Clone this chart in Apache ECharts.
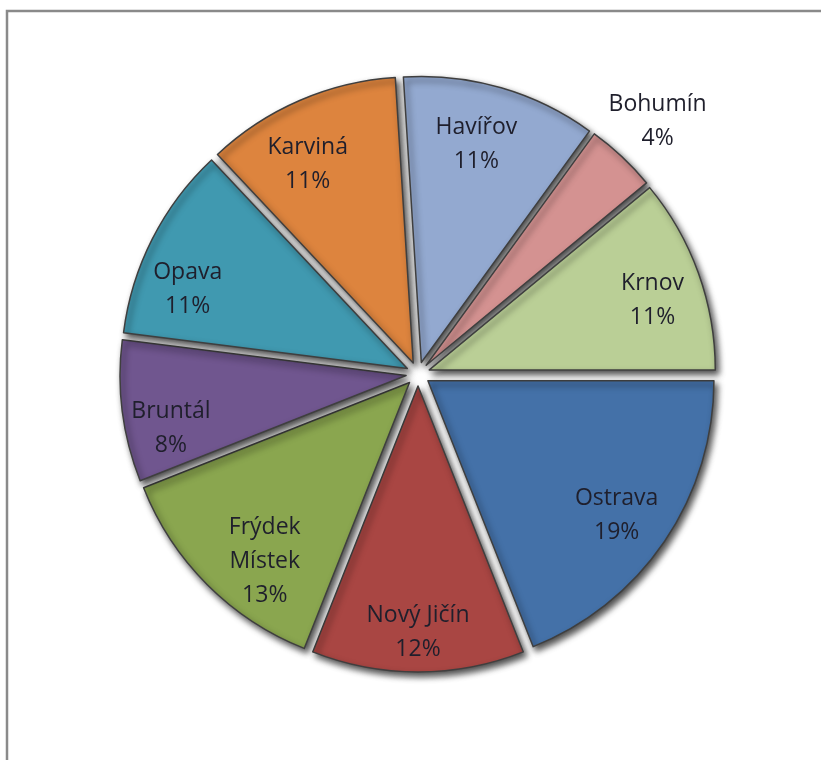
<!DOCTYPE html>
<html>
<head>
<meta charset="utf-8">
<script src="https://cdn.jsdelivr.net/npm/echarts@6/dist/echarts.min.js"></script>
<style>
  html, body { margin: 0; padding: 0; background: #ffffff; }
  #chart { width: 821px; height: 760px; }
</style>
</head>
<body>
<div id="chart"></div>
<script>
// Share of each district (percent), clockwise from 3 o'clock
const districts = ['Ostrava', 'Nový Jičín', 'Frýdek Místek', 'Bruntál', 'Opava', 'Karviná', 'Havířov', 'Bohumín', 'Krnov'];
const shares = [19, 12, 13, 8, 11, 11, 11, 4, 11];
const sliceColors = ['#4471A8', '#A94643', '#8AA64F', '#70568F', '#4099B0', '#DD843E', '#93A9D0', '#D49291', '#BACF96'];

// Names broken over two lines in the labels
const wrappedNames = { 'Frýdek Místek': 'Frýdek\nMístek' };

const CENTER = [418, 374];
const RADIUS = 286;
const EXPLODE = 12;

// Label placement: distance of the label centre from the pie centre
const labelRings = [
  { dist: 245, names: ['Ostrava', 'Nový Jičín', 'Frýdek Místek', 'Bruntál', 'Opava', 'Karviná', 'Havířov', 'Krnov'] },
  { dist: 350, names: ['Bohumín'] }
];
// Small per-label nudges (px) off the ring position
const labelNudge = {
  'Ostrava': [-4, 4],
  'Nový Jičín': [0, 13],
  'Frýdek Místek': [20, 14],
  'Bruntál': [-4, 24],
  'Opava': [-12, 27],
  'Karviná': [-13, 15],
  'Havířov': [-10, 6],
  'Krnov': [4, 9],
  'Bohumín': [0, 3]
};

const labelFont = {
  fontFamily: '"Open Sans", "Noto Sans", sans-serif',
  fontSize: 23,
  lineHeight: 34,
  color: '#1f1f2c'
};

const sliceStyle = {
  borderColor: '#3f3f3f',
  borderWidth: 1.5,
  shadowBlur: 6,
  shadowOffsetX: 3,
  shadowOffsetY: 4,
  shadowColor: 'rgba(0,0,0,0.7)'
};

const sliceData = districts.map((name, i) => ({
  name: name,
  value: shares[i],
  selected: true,
  itemStyle: { color: sliceColors[i] }
}));

const pieSeries = {
  type: 'pie',
  center: CENTER,
  radius: [0, RADIUS],
  startAngle: 0,
  clockwise: true,
  selectedMode: 'multiple',
  selectedOffset: EXPLODE,
  silent: true,
  label: { show: false },
  labelLine: { show: false },
  itemStyle: sliceStyle,
  select: { itemStyle: sliceStyle },
  emphasis: { disabled: true },
  data: sliceData,
  z: 2
};

// Transparent companion pies that only carry the labels; an inside pie label
// sits at half the radius (+3px), so the radius sets the label distance.
const labelSeries = labelRings.map(ring => ({
  type: 'pie',
  center: CENTER,
  radius: [0, 2 * (ring.dist - 3)],
  startAngle: 0,
  clockwise: true,
  silent: true,
  selectedMode: false,
  emphasis: { disabled: true },
  itemStyle: { color: 'rgba(0,0,0,0)', borderWidth: 0 },
  labelLine: { show: false },
  labelLayout: params => {
    const nudge = labelNudge[districts[params.dataIndex]] || [0, 0];
    return { dx: nudge[0], dy: nudge[1] };
  },
  z: 3,
  data: districts.map((name, i) => ({
    name: name,
    value: shares[i],
    label: {
      show: ring.names.indexOf(name) !== -1,
      position: 'inside',
      formatter: p => (wrappedNames[p.name] || p.name) + '\n' + p.value + '%',
      ...labelFont
    }
  }))
}));

const chart = echarts.init(document.getElementById('chart'), null, { renderer: 'canvas' });
chart.setOption({
  backgroundColor: '#ffffff',
  animation: false,
  tooltip: { show: false },
  graphic: [{
    type: 'polyline',
    shape: { points: [[7, 760], [7, 11], [821, 11]] },
    style: { stroke: '#8a8a8a', lineWidth: 2.5, fill: null },
    silent: true,
    z: 1
  }],
  series: [pieSeries].concat(labelSeries)
});
</script>
</body>
</html>
